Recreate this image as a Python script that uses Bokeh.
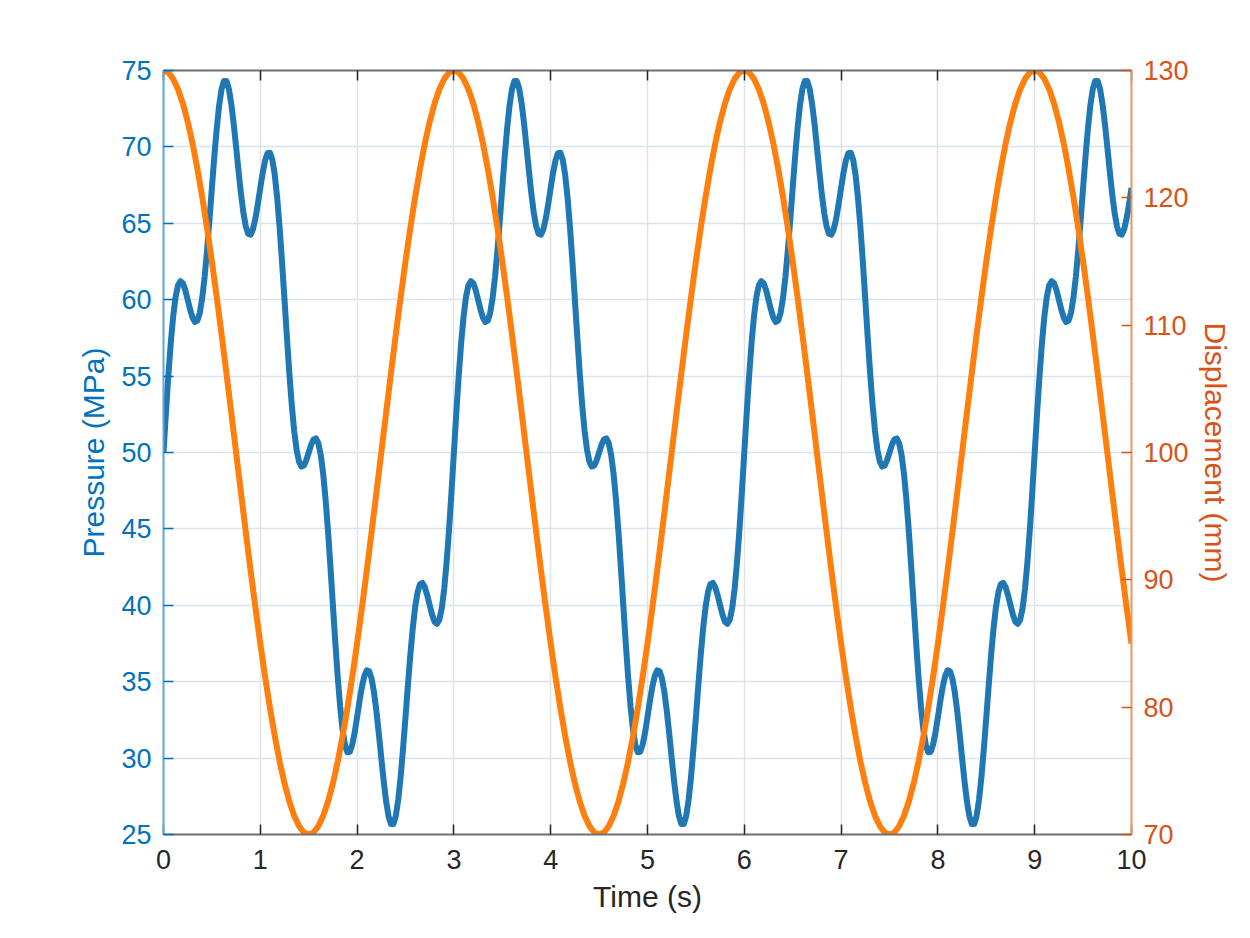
import numpy as np
from bokeh.plotting import figure
from bokeh.models import Range1d, LinearAxis, FixedTicker
from bokeh.embed import file_html
from bokeh.resources import INLINE

pressure = [
    50.0, 52.59, 55.03, 57.17, 58.91, 60.18, 60.94, 61.21, 61.07, 60.63,
    60.0, 59.35, 58.82, 58.54, 58.63, 59.14, 60.11, 61.50, 63.24, 65.23,
    67.32, 69.37, 71.21, 72.72, 73.78, 74.32, 74.32, 73.80, 72.83, 71.52,
    70.0, 68.43, 66.95, 65.71, 64.80, 64.32, 64.26, 64.63, 65.33, 66.28,
    67.32, 68.32, 69.12, 69.59, 69.62, 69.14, 68.14, 66.63, 64.70, 62.44,
    60.0, 57.54, 55.19, 53.12, 51.42, 50.18, 49.40, 49.08, 49.15, 49.50,
    50.0, 50.50, 50.85, 50.92, 50.60, 49.82, 48.58, 46.88, 44.81, 42.47,
    40.0, 37.56, 35.30, 33.37, 31.86, 30.86, 30.38, 30.41, 30.88, 31.68,
    32.68, 33.73, 34.67, 35.37, 35.74, 35.68, 35.20, 34.29, 33.05, 31.57,
    30.0, 28.48, 27.17, 26.20, 25.68, 25.68, 26.22, 27.28, 28.79, 30.64,
    32.68, 34.77, 36.76, 38.50, 39.90, 40.86, 41.38, 41.46, 41.18, 40.65,
    40.0, 39.38, 38.93, 38.79, 39.06, 39.82, 41.08, 42.83, 44.97, 47.41,
    50.0, 52.59, 55.03, 57.17, 58.91, 60.18, 60.94, 61.21, 61.07, 60.63,
    60.0, 59.35, 58.82, 58.54, 58.63, 59.14, 60.11, 61.50, 63.24, 65.23,
    67.32, 69.37, 71.21, 72.72, 73.78, 74.32, 74.32, 73.80, 72.83, 71.52,
    70.0, 68.43, 66.95, 65.71, 64.80, 64.32, 64.26, 64.63, 65.33, 66.28,
    67.32, 68.32, 69.12, 69.59, 69.62, 69.14, 68.14, 66.63, 64.70, 62.44,
    60.0, 57.54, 55.19, 53.12, 51.42, 50.18, 49.40, 49.08, 49.15, 49.50,
    50.0, 50.50, 50.85, 50.92, 50.60, 49.82, 48.58, 46.88, 44.81, 42.47,
    40.0, 37.56, 35.30, 33.37, 31.86, 30.86, 30.38, 30.41, 30.88, 31.68,
    32.68, 33.73, 34.67, 35.37, 35.74, 35.68, 35.20, 34.29, 33.05, 31.57,
    30.0, 28.48, 27.17, 26.20, 25.68, 25.68, 26.22, 27.28, 28.79, 30.64,
    32.68, 34.77, 36.76, 38.50, 39.90, 40.86, 41.38, 41.46, 41.18, 40.65,
    40.0, 39.38, 38.93, 38.79, 39.06, 39.82, 41.08, 42.83, 44.97, 47.41,
    50.0, 52.59, 55.03, 57.17, 58.91, 60.18, 60.94, 61.21, 61.07, 60.63,
    60.0, 59.35, 58.82, 58.54, 58.63, 59.14, 60.11, 61.50, 63.24, 65.23,
    67.32, 69.37, 71.21, 72.72, 73.78, 74.32, 74.32, 73.80, 72.83, 71.52,
    70.0, 68.43, 66.95, 65.71, 64.80, 64.32, 64.26, 64.63, 65.33, 66.28,
    67.32, 68.32, 69.12, 69.59, 69.62, 69.14, 68.14, 66.63, 64.70, 62.44,
    60.0, 57.54, 55.19, 53.12, 51.42, 50.18, 49.40, 49.08, 49.15, 49.50,
    50.0, 50.50, 50.85, 50.92, 50.60, 49.82, 48.58, 46.88, 44.81, 42.47,
    40.0, 37.56, 35.30, 33.37, 31.86, 30.86, 30.38, 30.41, 30.88, 31.68,
    32.68, 33.73, 34.67, 35.37, 35.74, 35.68, 35.20, 34.29, 33.05, 31.57,
    30.0, 28.48, 27.17, 26.20, 25.68, 25.68, 26.22, 27.28, 28.79, 30.64,
    32.68, 34.77, 36.76, 38.50, 39.90, 40.86, 41.38, 41.46, 41.18, 40.65,
    40.0, 39.38, 38.93, 38.79, 39.06, 39.82, 41.08, 42.83, 44.97, 47.41,
    50.0, 52.59, 55.03, 57.17, 58.91, 60.18, 60.94, 61.21, 61.07, 60.63,
    60.0, 59.35, 58.82, 58.54, 58.63, 59.14, 60.11, 61.50, 63.24, 65.23,
    67.32, 69.37, 71.21, 72.72, 73.78, 74.32, 74.32, 73.80, 72.83, 71.52,
    70.0, 68.43, 66.95, 65.71, 64.80, 64.32, 64.26, 64.63, 65.33, 66.28,
    67.32,
]

displacement = [
    130.0, 129.84, 129.34, 128.53, 127.41, 125.98, 124.27, 122.29, 120.07, 117.63,
    115.0, 112.20, 109.27, 106.24, 103.14, 100.0, 96.86, 93.76, 90.73, 87.80,
    85.0, 82.37, 79.93, 77.71, 75.73, 74.02, 72.59, 71.47, 70.66, 70.16,
    70.0, 70.16, 70.66, 71.47, 72.59, 74.02, 75.73, 77.71, 79.93, 82.37,
    85.0, 87.80, 90.73, 93.76, 96.86, 100.0, 103.14, 106.24, 109.27, 112.20,
    115.0, 117.63, 120.07, 122.29, 124.27, 125.98, 127.41, 128.53, 129.34, 129.84,
    130.0, 129.84, 129.34, 128.53, 127.41, 125.98, 124.27, 122.29, 120.07, 117.63,
    115.0, 112.20, 109.27, 106.24, 103.14, 100.0, 96.86, 93.76, 90.73, 87.80,
    85.0, 82.37, 79.93, 77.71, 75.73, 74.02, 72.59, 71.47, 70.66, 70.16,
    70.0, 70.16, 70.66, 71.47, 72.59, 74.02, 75.73, 77.71, 79.93, 82.37,
    85.0, 87.80, 90.73, 93.76, 96.86, 100.0, 103.14, 106.24, 109.27, 112.20,
    115.0, 117.63, 120.07, 122.29, 124.27, 125.98, 127.41, 128.53, 129.34, 129.84,
    130.0, 129.84, 129.34, 128.53, 127.41, 125.98, 124.27, 122.29, 120.07, 117.63,
    115.0, 112.20, 109.27, 106.24, 103.14, 100.0, 96.86, 93.76, 90.73, 87.80,
    85.0, 82.37, 79.93, 77.71, 75.73, 74.02, 72.59, 71.47, 70.66, 70.16,
    70.0, 70.16, 70.66, 71.47, 72.59, 74.02, 75.73, 77.71, 79.93, 82.37,
    85.0, 87.80, 90.73, 93.76, 96.86, 100.0, 103.14, 106.24, 109.27, 112.20,
    115.0, 117.63, 120.07, 122.29, 124.27, 125.98, 127.41, 128.53, 129.34, 129.84,
    130.0, 129.84, 129.34, 128.53, 127.41, 125.98, 124.27, 122.29, 120.07, 117.63,
    115.0, 112.20, 109.27, 106.24, 103.14, 100.0, 96.86, 93.76, 90.73, 87.80,
    85.0,
]

time_p = np.round(np.arange(len(pressure)) * 0.025, 3)
time_d = np.round(np.arange(len(displacement)) * 0.05, 3)

x_ticks = [0, 1, 2, 3, 4, 5, 6, 7, 8, 9, 10]
left_ticks = [25, 30, 35, 40, 45, 50, 55, 60, 65, 70, 75]
right_ticks = [70, 80, 90, 100, 110, 120, 130]

FONT = "Liberation Sans"
BLUE_AX = "#0072BD"
ORANGE_AX = "#D95319"
DARK = "#262626"
TICK_FS = "27px"
LABEL_FS = "30px"

p = figure(
    frame_width=968, frame_height=764,
    min_border_left=163, min_border_right=111,
    min_border_top=70, min_border_bottom=96,
    x_range=Range1d(0, 10), y_range=Range1d(25, 75),
    output_backend="svg", toolbar_location=None,
    background_fill_color="white", border_fill_color="white",
)
p.outline_line_color = None
p.extra_y_ranges = {"disp": Range1d(70, 130)}

# grids
p.xgrid.ticker = FixedTicker(ticks=x_ticks)
p.ygrid.ticker = FixedTicker(ticks=left_ticks)
p.xgrid.grid_line_color = "#e2e2e2"
p.xgrid.grid_line_width = 1.5
p.ygrid.grid_line_color = "#d6e5f3"
p.ygrid.grid_line_width = 1.5

# lines (blue first, orange on top)
p.line(time_p, pressure, line_color="#1f77b4", line_width=6, line_join="round")
p.line(time_d, displacement, line_color="#ff7f0e", line_width=6, line_join="round",
       y_range_name="disp")

# bottom axis
xa = p.xaxis[0]
xa.ticker = FixedTicker(ticks=x_ticks)
xa.axis_label = "Time (s)"
xa.major_tick_in = 10
xa.major_tick_out = 0
xa.minor_tick_line_color = None
xa.axis_line_color = "#6e6e6e"
xa.axis_line_width = 2
xa.major_tick_line_color = DARK
xa.major_tick_line_width = 1.5
xa.major_label_text_font = FONT
xa.major_label_text_font_size = TICK_FS
xa.major_label_text_color = DARK
xa.major_label_standoff = 15
xa.axis_label_text_font = FONT
xa.axis_label_text_font_size = LABEL_FS
xa.axis_label_text_font_style = "normal"
xa.axis_label_text_color = DARK
xa.axis_label_standoff = 8

# left axis
ya = p.yaxis[0]
ya.ticker = FixedTicker(ticks=left_ticks)
ya.axis_label = "Pressure (MPa)"
ya.major_tick_in = 10
ya.major_tick_out = 0
ya.minor_tick_line_color = None
ya.axis_line_color = "#64a2d6"
ya.axis_line_width = 2
ya.major_tick_line_color = BLUE_AX
ya.major_tick_line_width = 1.5
ya.major_label_text_font = FONT
ya.major_label_text_font_size = TICK_FS
ya.major_label_text_color = BLUE_AX
ya.major_label_standoff = 12
ya.axis_label_text_font = FONT
ya.axis_label_text_font_size = LABEL_FS
ya.axis_label_text_font_style = "normal"
ya.axis_label_text_color = BLUE_AX
ya.axis_label_standoff = 8

# right axis
ra = LinearAxis(y_range_name="disp", ticker=FixedTicker(ticks=right_ticks),
                axis_label="Displacement (mm)")
ra.major_tick_in = 10
ra.major_tick_out = 0
ra.minor_tick_line_color = None
ra.axis_line_color = "#ea9563"
ra.axis_line_width = 2
ra.major_tick_line_color = ORANGE_AX
ra.major_tick_line_width = 1.5
ra.major_label_text_font = FONT
ra.major_label_text_font_size = TICK_FS
ra.major_label_text_color = ORANGE_AX
ra.major_label_standoff = 12
ra.axis_label_text_font = FONT
ra.axis_label_text_font_size = LABEL_FS
ra.axis_label_text_font_style = "normal"
ra.axis_label_text_color = ORANGE_AX
ra.axis_label_standoff = 7
p.add_layout(ra, "right")

# top box edge with mirrored ticks
ta = LinearAxis(ticker=FixedTicker(ticks=x_ticks))
ta.major_tick_in = 10
ta.major_tick_out = 0
ta.minor_tick_line_color = None
ta.axis_line_color = "#6e6e6e"
ta.axis_line_width = 2
ta.major_tick_line_color = DARK
ta.major_tick_line_width = 1.5
ta.major_label_text_alpha = 0
ta.major_label_text_font_size = "1px"
ta.major_label_standoff = 0
p.add_layout(ta, "above")

open("out.html", "w").write(file_html(p, INLINE))
